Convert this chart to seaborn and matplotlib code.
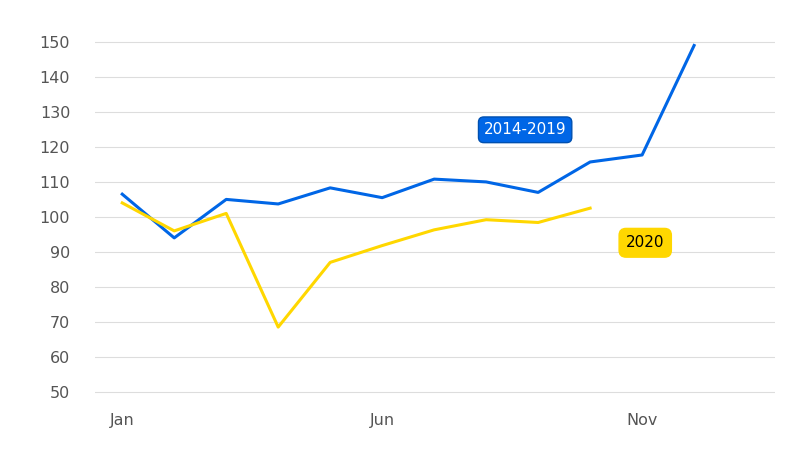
import matplotlib
matplotlib.use("Agg")
import matplotlib.pyplot as plt
import seaborn as sns
import pandas as pd

months = list(range(1, 13))
hist_vals = [106.5, 94, 105, 103.7, 108.3, 105.5, 110.8, 110, 107, 115.7, 117.7, 149]
months_2020 = list(range(1, 11))
vals_2020 = [104, 96, 101, 68.5, 87, 91.8, 96.3, 99.2, 98.4, 102.5]
tick_pos = [1, 6, 11]
tick_labels = ["Jan", "Jun", "Nov"]

df = pd.concat([
    pd.DataFrame({"m": months, "v": hist_vals, "s": "2014-2019"}),
    pd.DataFrame({"m": months_2020, "v": vals_2020, "s": "2020"}),
])

fig = plt.figure(figsize=(8, 4.5), dpi=100)
ax = fig.add_axes([0.119, 0.106, 0.85, 0.824])
sns.lineplot(data=df, x="m", y="v", hue="s", palette={"2014-2019": "#0066e6", "2020": "#ffd700"},
             linewidth=2.2, legend=False, ax=ax)
ax.set_xlim(0.48, 13.56)
ax.set_ylim(47, 153)
ax.set_yticks(range(50, 151, 10))
ax.set_xticks(tick_pos)
ax.set_xticklabels(tick_labels)
ax.grid(axis="y", color="#dddddd", linewidth=0.8)
ax.set_axisbelow(True)
for s in ax.spines.values():
    s.set_visible(False)
ax.tick_params(length=0, labelsize=11.5, colors="#555555", pad=8)
ax.tick_params(axis="y", pad=18)
ax.set_xlabel(""); ax.set_ylabel("")
ax.text(8.75, 124.9, "2014-2019", ha="center", va="center", fontsize=11, color="white",
        bbox=dict(boxstyle="round,pad=0.35", fc="#0066e6", ec="#0050b0"))
ax.text(11.06, 92.6, "2020", ha="center", va="center", fontsize=11, color="black",
        bbox=dict(boxstyle="round,pad=0.45", fc="#ffd700", ec="#ffd700"))
fig.savefig("out.png")
